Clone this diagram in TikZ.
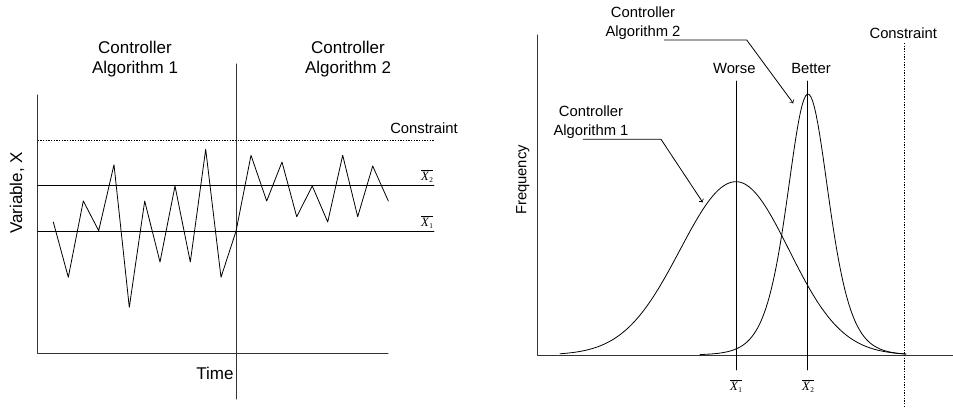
\documentclass[tikz,border=0pt]{standalone}
\usepackage{fontspec}
\setmainfont{Liberation Sans}
\newfontfamily\tms{Liberation Serif}
\newcommand\meanlabel[1]{$\overline{\hbox{\tms\itshape X\kern0.4pt\raisebox{-0.35ex}{\fontsize{5.5}{6}\selectfont\upshape #1}}}$}
\begin{document}
\begin{tikzpicture}[x=0.75pt, y=-0.75pt, line join=round, line cap=round, >=to,
        axis/.style={line width=0.75pt, black!80},
        thin line/.style={line width=0.6pt},
        bound/.style={line width=0.75pt, line cap=butt, dash pattern=on 0.9pt off 1.1pt},
        big/.style={font=\fontsize{12.75}{15}\selectfont, align=center, inner sep=0pt},
        lbl/.style={font=\fontsize{11.1}{14}\selectfont, align=center, inner sep=0pt},
        mean/.style={inner sep=0pt, font=\fontsize{9.5}{11}\selectfont}]
        \useasboundingbox (0,0) rectangle (953,410);
        % left: time series
        \draw[axis] (37.7,95) -- (37.7,353) -- (388,353);
        \draw[axis] (236,64) -- (236,399);
        \draw[bound] (37.7,140) -- (434,140);
        \draw[thin line] (37.7,185.7) -- (434,185.7);
        \draw[thin line] (37.7,231.3) -- (434,231.3);
        \draw[thin line] plot coordinates {(53.3,222) (68.3,277.3) (83.3,201)
            (98.7,230.7) (114,164.7) (129.3,307.3) (144.7,201) (160,262) (175,186)
            (190.3,262) (205.7,149.3) (221,277.3) (236,231.3) (251,155.3)
            (266.7,201) (282,162) (296.7,216.7) (312.3,186) (327.7,222)
            (342.7,155.3) (357.7,216.7) (372.7,166) (388.3,201)};
        \node[big] (algo1) at (135,59) {Controller\\Algorithm 1};
        \node[big] (algo2) at (348,59) {Controller\\Algorithm 2};
        \node[big] (time) at (215,373) {Time};
        \node[big, rotate=90] (varx) at (17,193) {Variable, X};
        \node[lbl] (cstr1) at (424,128) {Constraint};
        \node[mean] (x2l) at (427,176) {\meanlabel{2}};
        \node[mean] (x1l) at (427,222) {\meanlabel{1}};
        
        % right: distributions
        \path 
        (664.3,40) coordinate (lead2a) (746.7,40) coordinate (lead2b)
        (793.3,103.3) coordinate (lead2c)
        (583.3,139.3) coordinate (lead1a) (661,139.3) coordinate (lead1b)
        (702.7,202.3) coordinate (lead1c)
        ;
        \draw[axis] (537.7,35) -- (537.7,355) -- (952.7,355);
        \draw[bound] (904,43) -- (904,408);
        \draw[thin line] (736,81) -- (736,370);
        \draw[thin line] (807.7,81) -- (807.7,370);
        \draw[thin line] plot[domain=560:736, samples=80]
            (\x, {355-173.3*exp(-0.5*((\x-736)/56)^2)})
            -- plot[domain=736:906, samples=80]
            (\x, {355-173.3*exp(-0.5*((\x-736)/53)^2)});
        \draw[thin line] plot[domain=700:906, samples=120]
            (\x, {355-261/(cosh((\x-808)/28))^2});
        \draw[thin line, ->] (lead2a) -- (lead2b) -- (lead2c);
        \draw[thin line, ->] (lead1a) -- (lead1b) -- (lead1c);
        \node[lbl] (worse) at (734.3,68) {Worse};
        \node[lbl] (better) at (811,68) {Better};
        \node[lbl] (cstr2) at (903.3,33) {Constraint};
        \node[lbl, rotate=90] (freq) at (522.7,180) {Frequency};
        \node[lbl] (algo2r) at (643,23.3) {Controller\\Algorithm 2};
        \node[lbl] (algo1r) at (591,122) {Controller\\Algorithm 1};
        \node[mean] (x1r) at (736,386) {\meanlabel{1}};
        \node[mean] (x2r) at (808,386) {\meanlabel{2}};
        
    \end{tikzpicture}
\end{document}
